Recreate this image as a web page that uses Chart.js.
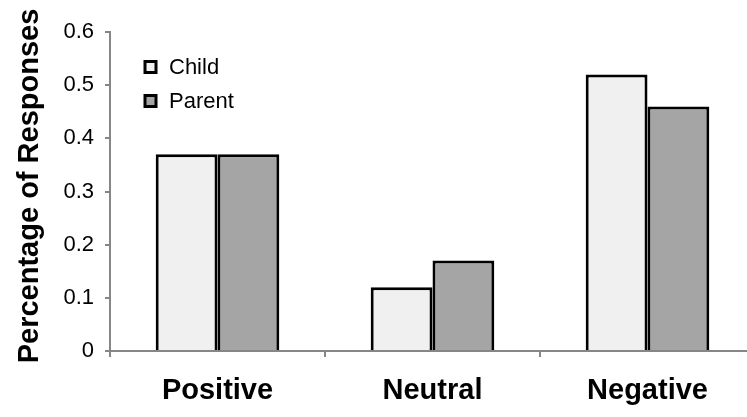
<!DOCTYPE html>
<html>
<head>
<meta charset="utf-8">
<script src="https://cdn.jsdelivr.net/npm/chart.js@4.4.1/dist/chart.umd.min.js"></script>
<style>
    html, body { margin: 0; padding: 0; background: #fff; overflow: hidden; }
    #wrap { width: 760px; height: 417px; }
</style>
</head>
<body>
<div id="wrap"><canvas id="chart" width="760" height="417"></canvas></div>
<script>
    // Data
    var CATEGORIES = ['Positive', 'Neutral', 'Negative'];
    var CHILD = [0.37, 0.12, 0.52];
    var PARENT = [0.37, 0.17, 0.46];
    var Y_TICKS = [0, 0.1, 0.2, 0.3, 0.4, 0.5, 0.6];
    var Y_TITLE = 'Percentage of Responses';

    var AXIS_GREY = '#868686';
    var FONT = '"Liberation Sans", Arial, sans-serif';

    // legend drawn inside the plot, top left, like the original
    var boxLegend = {
        id: 'boxLegend',
        afterDraw: function (chart) {
            var ctx = chart.ctx;
            var area = chart.chartArea;
            var x = area.left + 35;
            var y = area.top + 35;
            ctx.save();
            ctx.font = '22px ' + FONT;
            ctx.textBaseline = 'middle';
            chart.data.datasets.forEach(function (ds, i) {
                var cy = y + i * 34;
                ctx.fillStyle = ds.backgroundColor;
                ctx.fillRect(x, cy - 5.5, 11, 11);
                ctx.lineWidth = 3;
                ctx.strokeStyle = '#000';
                ctx.strokeRect(x, cy - 5.5, 11, 11);
                ctx.fillStyle = '#000';
                ctx.fillText(ds.label, x + 24, cy + 1);
            });
            ctx.restore();
        }
    };

    // rotated y title, placed a little above the plot centre as in the original
    var yTitle = {
        id: 'yTitle',
        afterDraw: function (chart) {
            var ctx = chart.ctx;
            ctx.save();
            ctx.translate(38, 186);
            ctx.rotate(-Math.PI / 2);
            ctx.font = 'bold 29px ' + FONT;
            ctx.textAlign = 'center';
            ctx.textBaseline = 'alphabetic';
            ctx.fillStyle = '#000';
            ctx.fillText(Y_TITLE, 0, 0);
            ctx.restore();
        }
    };

    new Chart(document.getElementById('chart'), {
        type: 'bar',
        data: {
            labels: CATEGORIES,
            datasets: [
                {
                    label: 'Child',
                    data: CHILD,
                    backgroundColor: '#f0f0f0',
                    borderColor: '#000',
                    borderWidth: 3,
                    borderSkipped: 'bottom'
                },
                {
                    label: 'Parent',
                    data: PARENT,
                    backgroundColor: '#a5a5a5',
                    borderColor: '#000',
                    borderWidth: 3,
                    borderSkipped: 'bottom'
                }
            ]
        },
        options: {
            responsive: false,
            animation: false,
            events: [],
            barPercentage: 1,
            categoryPercentage: 0.575,
            layout: { padding: { top: 32, right: 5, bottom: 0, left: 0 } },
            plugins: {
                legend: { display: false },
                tooltip: { enabled: false }
            },
            scales: {
                x: {
                    grid: {
                        offset: true,
                        drawOnChartArea: false,
                        color: AXIS_GREY,
                        lineWidth: 2,
                        tickLength: 6
                    },
                    border: { color: AXIS_GREY, width: 2 },
                    ticks: {
                        color: '#000',
                        padding: 17,
                        font: { family: FONT, size: 29, weight: 'bold' }
                    },
                    afterFit: function (scale) { scale.height = 66; }
                },
                y: {
                    min: 0,
                    max: 0.6,
                    afterBuildTicks: function (scale) {
                        scale.ticks = Y_TICKS.map(function (v) { return { value: v }; });
                    },
                    grid: {
                        drawOnChartArea: false,
                        color: AXIS_GREY,
                        lineWidth: 2,
                        tickLength: 5
                    },
                    border: { color: AXIS_GREY, width: 2 },
                    ticks: {
                        color: '#000',
                        padding: 11,
                        font: { family: FONT, size: 22 },
                        callback: function (v) { return String(Math.round(v * 10) / 10); }
                    },
                    afterFit: function (scale) { scale.width = 110; }
                }
            }
        },
        plugins: [boxLegend, yTitle]
    });
</script>
</body>
</html>
